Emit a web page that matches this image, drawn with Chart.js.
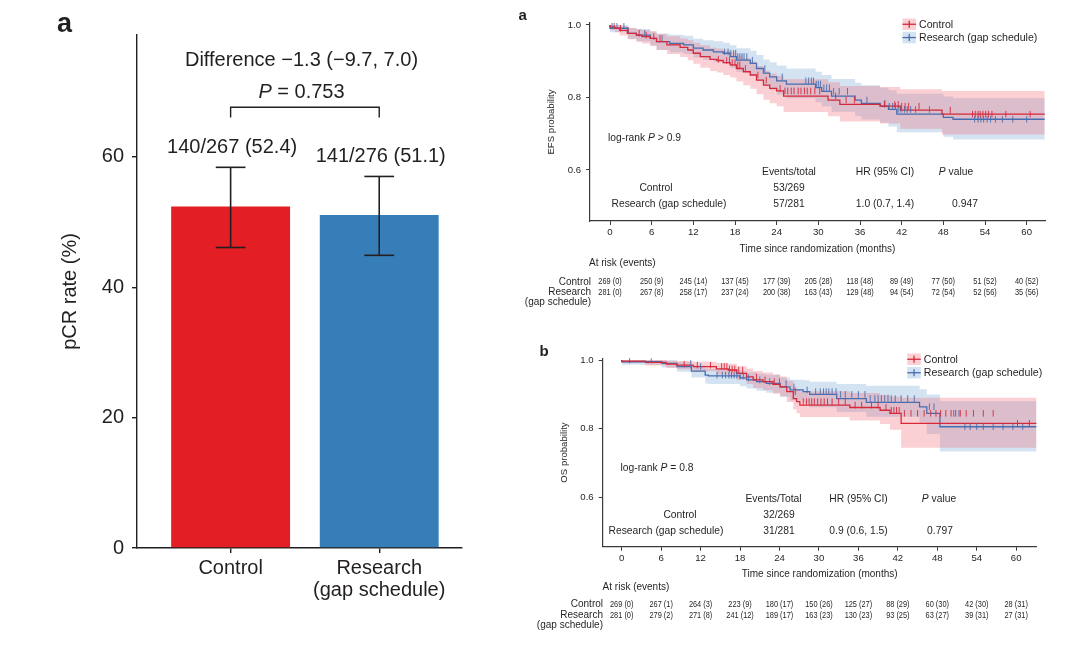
<!DOCTYPE html>
<html><head><meta charset="utf-8">
<script src="https://cdn.jsdelivr.net/npm/chart.js@4.4.1/dist/chart.umd.min.js"></script>
<style>
html,body{margin:0;padding:0;background:#fff;width:1080px;height:649px;overflow:hidden}
canvas{position:absolute}
</style></head><body>
<canvas id="c1" width="480" height="649" style="left:0;top:0"></canvas>
<canvas id="c2" width="580" height="325" style="left:500px;top:0"></canvas>
<canvas id="c3" width="580" height="319" style="left:500px;top:330px"></canvas>
<script>
// ---------------- DATA ----------------
// Panel a (left): pCR rate
const pcrGroups = [['Control'], ['Research', '(gap schedule)']];
const pcrRate = [52.4, 51.1];
const pcrLow = [46.1, 44.9];
const pcrHigh = [58.4, 57.0];
const pcrText = ['140/267 (52.4)', '141/276 (51.1)'];
const pcrYTicks = [0, 20, 40, 60];

// Kaplan-Meier shared ticks
const kmMonthTicks = [0, 6, 12, 18, 24, 30, 36, 42, 48, 54, 60];
const kmProbTicks = [0.6, 0.8, 1.0];

// EFS - Control
const efsCtrlTime = [0, 0.7, 1.4, 2.5, 3.8, 4.6, 5.8, 6.7, 8.2, 10.1, 11.2, 12.0, 13.0, 14.4, 15.4, 16.3, 17.3, 18.2, 19.2, 20.2, 21.1, 22.1, 23.0, 24.0, 25.0, 31.4, 33.1, 38.9, 41.8, 47.8, 51.9];
const efsCtrlSurv = [1.000, 0.995, 0.991, 0.985, 0.977, 0.972, 0.968, 0.963, 0.954, 0.945, 0.938, 0.931, 0.922, 0.913, 0.905, 0.902, 0.896, 0.890, 0.880, 0.871, 0.862, 0.848, 0.834, 0.825, 0.818, 0.804, 0.793, 0.781, 0.776, 0.765, 0.754];
const efsCtrlLow  = [1.000, 0.987, 0.980, 0.971, 0.961, 0.954, 0.949, 0.942, 0.931, 0.920, 0.912, 0.903, 0.893, 0.882, 0.873, 0.869, 0.862, 0.855, 0.844, 0.834, 0.824, 0.809, 0.794, 0.784, 0.776, 0.760, 0.748, 0.734, 0.728, 0.714, 0.698];
const efsCtrlHigh = [1.000, 1.000, 1.000, 0.997, 0.992, 0.989, 0.986, 0.983, 0.976, 0.969, 0.963, 0.958, 0.951, 0.944, 0.937, 0.935, 0.930, 0.925, 0.916, 0.908, 0.900, 0.887, 0.874, 0.866, 0.860, 0.850, 0.842, 0.832, 0.829, 0.823, 0.818];
const efsCtrlCens = [0.6, 1.5, 2.6, 4.2, 5.2, 6.3, 7.2, 15.6, 16.8, 17.2, 17.6, 18.0, 18.4, 18.7, 19.5, 21.3, 22.5, 24.5, 25.2, 25.6, 26.1, 26.5, 27.1, 27.5, 28.0, 28.4, 28.9, 29.5, 30.2, 32.5, 34.0, 35.2, 39.5, 41.0, 41.5, 42.0, 42.5, 43.0, 44.5, 49.0, 52.2, 52.6, 53.0, 53.3, 53.7, 54.1, 54.5, 55.0, 57.0, 60.5];
// EFS - Research (gap schedule)
const efsResTime = [0, 2.6, 3.8, 5.8, 6.7, 8.6, 10.6, 12.0, 13.4, 14.9, 16.3, 17.3, 18.2, 20.2, 21.1, 22.1, 23.0, 24.0, 25.4, 29.6, 30.5, 31.9, 35.3, 36.2, 38.9, 40.1, 41.3, 48.0, 49.4, 51.8];
const efsResSurv = [1.000, 0.991, 0.977, 0.972, 0.963, 0.954, 0.949, 0.945, 0.936, 0.931, 0.926, 0.922, 0.913, 0.903, 0.894, 0.880, 0.867, 0.857, 0.846, 0.837, 0.827, 0.817, 0.804, 0.793, 0.784, 0.776, 0.767, 0.754, 0.745, 0.740];
const efsResLow  = [1.000, 0.980, 0.962, 0.955, 0.944, 0.932, 0.925, 0.920, 0.910, 0.904, 0.898, 0.893, 0.882, 0.870, 0.860, 0.845, 0.831, 0.820, 0.808, 0.798, 0.787, 0.776, 0.761, 0.749, 0.739, 0.730, 0.720, 0.704, 0.692, 0.684];
const efsResHigh = [1.000, 1.000, 0.992, 0.989, 0.982, 0.976, 0.973, 0.970, 0.962, 0.958, 0.955, 0.951, 0.944, 0.936, 0.929, 0.917, 0.905, 0.897, 0.888, 0.880, 0.871, 0.862, 0.851, 0.841, 0.834, 0.827, 0.820, 0.810, 0.803, 0.798];
const efsResCens = [0.3, 1.0, 2.0, 5.0, 7.5, 16.5, 17.0, 17.4, 17.8, 18.1, 18.4, 18.7, 19.0, 19.3, 19.7, 20.5, 22.3, 24.8, 28.2, 28.6, 29.0, 29.3, 29.7, 30.0, 30.3, 30.8, 31.2, 31.6, 32.2, 33.0, 34.2, 37.0, 39.6, 40.2, 40.7, 41.1, 41.5, 41.9, 42.4, 42.8, 43.3, 44.0, 46.0, 52.5, 53.0, 53.4, 53.8, 54.3, 54.8, 55.5, 56.5, 58.0, 60.0];
const efsFollowEnd = 62.6;
const efsRiskCtrl = ['269 (0)', '250 (9)', '245 (14)', '137 (45)', '177 (39)', '205 (28)', '118 (48)', '89 (49)', '77 (50)', '51 (52)', '40 (52)'];
const efsRiskRes  = ['281 (0)', '267 (8)', '258 (17)', '237 (24)', '200 (38)', '163 (43)', '129 (48)', '94 (54)', '72 (54)', '52 (56)', '35 (56)'];
const efsEvents = ['53/269', '57/281'];
const efsHR = ['', '1.0 (0.7, 1.4)'];
const efsP = ['', '0.947'];

// OS - Control
const osCtrlTime = [0, 3.6, 6.8, 8.4, 10.9, 14.4, 16.2, 17.5, 19.0, 20.0, 21.5, 23.0, 24.1, 25.1, 26.1, 26.6, 27.1, 34.7, 39.3, 40.8, 42.5, 59.2];
const osCtrlSurv = [1.000, 0.997, 0.993, 0.988, 0.985, 0.981, 0.974, 0.971, 0.961, 0.951, 0.942, 0.937, 0.929, 0.922, 0.908, 0.888, 0.879, 0.869, 0.862, 0.854, 0.845, 0.816];
const osCtrlLow  = [1.000, 0.991, 0.984, 0.977, 0.973, 0.967, 0.958, 0.954, 0.942, 0.930, 0.919, 0.912, 0.902, 0.894, 0.878, 0.856, 0.845, 0.834, 0.824, 0.814, 0.797, 0.745];
const osCtrlHigh = [1.000, 1.000, 1.000, 0.998, 0.997, 0.995, 0.991, 0.989, 0.982, 0.975, 0.968, 0.964, 0.958, 0.952, 0.940, 0.923, 0.916, 0.909, 0.904, 0.899, 0.893, 0.890];
const osCtrlCens = [1.2, 9.5, 11.5, 13.5, 15.2, 15.6, 16.0, 16.4, 16.8, 17.2, 17.8, 18.4, 20.5, 21.8, 23.2, 26.4, 27.6, 28.1, 28.5, 28.9, 29.3, 29.8, 30.3, 30.8, 31.3, 32.0, 33.0, 34.0, 35.5, 36.5, 38.0, 39.0, 40.2, 41.0, 41.4, 41.8, 42.2, 43.0, 44.0, 45.0, 46.0, 47.0, 47.8, 48.5, 49.3, 50.1, 50.8, 51.5, 52.4, 53.5, 55.0, 56.5, 60.2, 62.0];
// OS - Research (gap schedule)
const osResTime = [0, 6.1, 8.4, 10.6, 12.7, 13.2, 18.0, 19.0, 20.5, 22.0, 24.1, 25.6, 27.6, 28.6, 32.7, 37.2, 45.3, 46.4, 48.4, 51.7];
const osResSurv = [1.000, 0.995, 0.990, 0.981, 0.968, 0.956, 0.954, 0.948, 0.942, 0.937, 0.932, 0.922, 0.913, 0.908, 0.900, 0.888, 0.877, 0.864, 0.845, 0.806];
const osResLow  = [1.000, 0.986, 0.978, 0.966, 0.949, 0.932, 0.930, 0.924, 0.917, 0.911, 0.905, 0.893, 0.882, 0.874, 0.863, 0.849, 0.835, 0.818, 0.785, 0.734];
const osResHigh = [1.000, 1.000, 0.999, 0.994, 0.984, 0.975, 0.974, 0.969, 0.964, 0.960, 0.957, 0.949, 0.943, 0.941, 0.937, 0.930, 0.925, 0.915, 0.900, 0.880];
const osResCens = [4.5, 10.5, 12.0, 14.5, 15.3, 15.8, 16.3, 16.7, 17.1, 17.5, 18.0, 18.5, 19.3, 21.0, 22.5, 24.0, 25.0, 26.2, 28.2, 29.5, 30.2, 30.7, 31.1, 31.5, 32.0, 32.6, 33.3, 34.0, 35.0, 36.0, 37.0, 37.8, 38.5, 39.0, 39.5, 40.0, 40.5, 41.0, 41.6, 42.5, 43.5, 44.5, 46.8, 47.5, 50.5, 51.3, 52.2, 53.0, 54.0, 55.0, 56.5, 58.0, 59.5, 61.0];
const osFollowEnd = 63.1;
const osRiskCtrl = ['269 (0)', '267 (1)', '264 (3)', '223 (9)', '180 (17)', '150 (26)', '125 (27)', '88 (29)', '60 (30)', '42 (30)', '28 (31)'];
const osRiskRes  = ['281 (0)', '279 (2)', '271 (8)', '241 (12)', '189 (17)', '163 (23)', '130 (23)', '93 (25)', '63 (27)', '39 (31)', '27 (31)'];
const osEvents = ['32/269', '31/281'];
const osHR = ['', '0.9 (0.6, 1.5)'];
const osP = ['', '0.797'];

// ---------------- STYLE / HELPERS ----------------
const FONT = "'Liberation Sans', Arial, Helvetica, sans-serif";
const INK = '#231f20';
Chart.defaults.font.family = FONT;
Chart.defaults.color = INK;

const RED_BAR = 'rgb(227,30,36)';
const BLUE_BAR = 'rgb(55,126,184)';
const RED_LINE = 'rgb(214,40,58)';
const BLUE_LINE = 'rgb(70,110,176)';
const RED_BAND = 'rgba(240,100,112,0.30)';
const BLUE_BAND = 'rgba(112,162,208,0.30)';

function setFont(ctx, size, italic, bold) {
  ctx.font = (italic ? 'italic ' : '') + (bold ? 'bold ' : '') + size + 'px ' + FONT;
}
function drawRich(ctx, parts, x, y, align, size) {
  let total = 0;
  const ws = parts.map(p => { setFont(ctx, size, p[1]); const w = ctx.measureText(p[0]).width; total += w; return w; });
  let cx = align === 'center' ? x - total / 2 : (align === 'right' ? x - total : x);
  ctx.textAlign = 'left';
  parts.forEach((p, i) => { setFont(ctx, size, p[1]); ctx.fillText(p[0], cx, y); cx += ws[i]; });
}
function seg(ctx, x1, y1, x2, y2) { ctx.beginPath(); ctx.moveTo(x1, y1); ctx.lineTo(x2, y2); ctx.stroke(); }
function stepAt(times, surv, t) { let v = surv[0]; for (let i = 0; i < times.length; i++) if (times[i] <= t) v = surv[i]; return v; }
function curvePoints(times, vals, end) {
  const pts = times.map((t, i) => ({ x: t, y: vals[i] }));
  pts.push({ x: end, y: vals[vals.length - 1] });
  return pts;
}

// ---------------- PANEL a (bar) ----------------
const barExtras = {
  id: 'barExtras',
  afterDraw(chart) {
    const ctx = chart.ctx, xs = chart.scales.x, ys = chart.scales.y;
    ctx.save();
    ctx.strokeStyle = INK; ctx.fillStyle = INK; ctx.lineWidth = 1.6;
    pcrRate.forEach((v, i) => {
      const px = xs.getPixelForValue(i + 1);
      const hw = xs.getPixelForValue(i + 1.1) - px;
      const yl = ys.getPixelForValue(pcrLow[i]), yu = ys.getPixelForValue(pcrHigh[i]);
      seg(ctx, px, yl, px, yu);
      seg(ctx, px - hw, yu, px + hw, yu);
      seg(ctx, px - hw, yl, px + hw, yl);
      setFont(ctx, 20); ctx.textAlign = 'center'; ctx.textBaseline = 'alphabetic';
      ctx.fillText(pcrText[i], px + 1.5, yu - 14);
    });
    // comparison bracket
    const x1 = xs.getPixelForValue(1), x2 = xs.getPixelForValue(2);
    ctx.lineWidth = 1.4;
    ctx.beginPath(); ctx.moveTo(x1, 117.5); ctx.lineTo(x1, 107.3); ctx.lineTo(x2, 107.3); ctx.lineTo(x2, 117.5); ctx.stroke();
    ctx.textBaseline = 'alphabetic';
    drawRich(ctx, [['P', true], [' = 0.753', false]], 301.5, 98.3, 'center', 20);
    drawRich(ctx, [['Difference \u22121.3 (\u22129.7, 7.0)', false]], 301.5, 65.8, 'center', 20);
    // panel letter
    setFont(ctx, 27, false, true); ctx.textAlign = 'left';
    ctx.fillText('a', 57, 31.5);
    ctx.restore();
  }
};

new Chart(document.getElementById('c1'), {
  type: 'bar',
  data: {
    datasets: [{
      data: pcrRate.map((v, i) => ({ x: i + 1, y: v })),
      backgroundColor: [RED_BAR, BLUE_BAR],
      borderWidth: 0,
      barPercentage: 1,
      categoryPercentage: 0.8
    }]
  },
  options: {
    responsive: false, animation: false, devicePixelRatio: 1, events: [],
    layout: { padding: { left: 0, top: 35, right: 18, bottom: 0 } },
    plugins: { legend: { display: false }, tooltip: { enabled: false } },
    scales: {
      x: {
        type: 'linear', min: 0.37, max: 2.557, offset: false,
        afterBuildTicks: s => { s.ticks = pcrGroups.map((g, i) => ({ value: i + 1 })); },
        afterFit: s => { s.height = 101; },
        ticks: { callback: v => pcrGroups[Math.round(v) - 1], font: { size: 20, lineHeight: 1.07 }, color: INK, padding: 5, maxRotation: 0, autoSkip: false },
        grid: { offset: false, drawOnChartArea: false, tickLength: 5, color: INK, lineWidth: 1.4 },
        border: { color: INK, width: 1.4 }
      },
      y: {
        min: 0, max: 78.7,
        afterBuildTicks: s => { s.ticks = pcrYTicks.map(v => ({ value: v })); },
        afterFit: s => { s.width = 137; },
        ticks: { font: { size: 20 }, color: INK, padding: 8 },
        grid: { drawOnChartArea: false, tickLength: 5, color: INK, lineWidth: 1.4 },
        border: { color: INK, width: 1.4 },
        title: { display: true, text: 'pCR rate (%)', font: { size: 20 }, color: INK, padding: { top: 58, bottom: 0 } }
      }
    }
  },
  plugins: [barExtras]
});

// ---------------- KM panels ----------------
function kmChart(canvasId, cfg) {
  const ds = [];
  cfg.arms.forEach(arm => {
    ds.push({
      data: arm.cens.map(t => ({ x: t, y: stepAt(arm.time, arm.surv, t) })),
      showLine: false, pointStyle: 'line', pointRotation: 90, pointRadius: 3.3,
      pointBorderColor: arm.line, pointBackgroundColor: arm.line, pointBorderWidth: 0.9, order: 0
    });
  });
  cfg.arms.forEach(arm => {
    ds.push({ data: curvePoints(arm.time, arm.surv, cfg.end), stepped: 'after', borderColor: arm.line, borderWidth: 1.3, pointRadius: 0, fill: false, order: 1 });
  });
  cfg.arms.forEach(arm => {
    ds.push({ data: curvePoints(arm.time, arm.high, cfg.end), stepped: 'after', borderWidth: 0, borderColor: 'transparent', backgroundColor: arm.band, pointRadius: 0, fill: '+1', order: 2 });
    ds.push({ data: curvePoints(arm.time, arm.low, cfg.end), stepped: 'after', borderWidth: 0, borderColor: 'transparent', pointRadius: 0, fill: false, order: 2 });
  });

  const extras = {
    id: 'km_' + canvasId,
    afterDraw(chart) {
      const ctx = chart.ctx, xs = chart.scales.x;
      ctx.save();
      ctx.translate(-cfg.left, -cfg.top);
      ctx.fillStyle = INK;
      // panel letter
      setFont(ctx, 15, false, true); ctx.textAlign = 'left'; ctx.textBaseline = 'alphabetic';
      ctx.fillText(cfg.letter, cfg.letterX, cfg.letterY);
      // legend
      const L = cfg.legend;
      cfg.arms.forEach((arm, i) => {
        const by = L.y + i * L.dy;
        ctx.fillStyle = arm.band; ctx.fillRect(L.x, by, 13.5, 11.5);
        ctx.strokeStyle = arm.line; ctx.lineWidth = 1.3;
        seg(ctx, L.x, by + 5.75, L.x + 13.5, by + 5.75);
        seg(ctx, L.x + 6.75, by + 2.2, L.x + 6.75, by + 9.3);
        ctx.fillStyle = INK; setFont(ctx, 10.6); ctx.textAlign = 'left'; ctx.textBaseline = 'middle';
        ctx.fillText(arm.name, L.x + 16.5, by + 6.2);
      });
      ctx.textBaseline = 'middle';
      // log-rank
      drawRich(ctx, [['log-rank ', false], ['P', true], [cfg.logrank, false]], cfg.lrX, cfg.lrY, 'left', 10.3);
      // summary table
      const T = cfg.table;
      drawRich(ctx, [[T.evHead, false]], T.evX, T.y0, 'center', 10.3);
      drawRich(ctx, [['HR (95% CI)', false]], T.hrX, T.y0, 'center', 10.3);
      drawRich(ctx, [['P', true], [' value', false]], T.pX, T.y0, 'center', 10.3);
      cfg.arms.forEach((arm, i) => {
        const y = T.y0 + (i + 1) * T.dy;
        drawRich(ctx, [[arm.name, false]], T.nameX[i], y, 'center', 10.3);
        drawRich(ctx, [[cfg.events[i], false]], T.evValX, y, 'center', 10.3);
        if (cfg.hr[i]) drawRich(ctx, [[cfg.hr[i], false]], T.hrX, y, 'center', 10.3);
        if (cfg.p[i]) drawRich(ctx, [[cfg.p[i], false]], T.pValX, y, 'center', 10.3);
      });
      // at-risk table
      const R = cfg.risk;
      setFont(ctx, 10); ctx.textAlign = 'left';
      ctx.fillText('At risk (events)', R.headX, R.headY);
      ctx.textAlign = 'right';
      ctx.fillText('Control', R.labelX, R.y1);
      ctx.fillText('Research', R.labelX, R.y2);
      ctx.fillText('(gap schedule)', R.labelX, R.y3);
      [cfg.riskCtrl, cfg.riskRes].forEach((row, r) => {
        row.forEach((txt, k) => {
          const px = xs.getPixelForValue(kmMonthTicks[k]) + cfg.left;
          ctx.save();
          ctx.translate(px, r === 0 ? R.y1 : R.y2);
          ctx.scale(0.86, 1);
          setFont(ctx, 8.6); ctx.textAlign = 'center';
          ctx.fillText(txt, 0, 0);
          ctx.restore();
        });
      });
      ctx.restore();
    }
  };

  return new Chart(document.getElementById(canvasId), {
    type: 'line',
    data: { datasets: ds },
    options: {
      responsive: false, animation: false, devicePixelRatio: 1, events: [],
      layout: { padding: cfg.padding },
      plugins: { legend: { display: false }, tooltip: { enabled: false } },
      scales: {
        x: {
          type: 'linear', min: cfg.xMin, max: cfg.xMax,
          afterBuildTicks: s => { s.ticks = kmMonthTicks.map(v => ({ value: v })); },
          afterFit: s => { s.height = cfg.xAxisH; },
          ticks: { font: { size: 9.6 }, color: INK, padding: 1.5, maxRotation: 0, autoSkip: false },
          grid: { drawOnChartArea: false, tickLength: 4, color: '#3a3a3a', lineWidth: 1 },
          border: { color: '#3a3a3a', width: 1.2 },
          title: { display: true, text: 'Time since randomization (months)', font: { size: 10 }, color: INK, padding: { top: 0, bottom: 0 } }
        },
        y: {
          min: cfg.yMin, max: cfg.yMax,
          afterBuildTicks: s => { s.ticks = kmProbTicks.map(v => ({ value: v })); },
          afterFit: s => { s.width = cfg.yAxisW; },
          ticks: { font: { size: 9.6 }, color: INK, padding: 5, callback: v => v.toFixed(1) },
          grid: { drawOnChartArea: false, tickLength: 4, color: '#3a3a3a', lineWidth: 1 },
          border: { color: '#3a3a3a', width: 1.2 },
          title: { display: true, text: cfg.yTitle, font: { size: 9.6 }, color: INK, padding: { top: cfg.yTitlePad, bottom: 0 } }
        }
      }
    },
    plugins: [extras]
  });
}

kmChart('c2', {
  left: 500, top: 0,
  padding: { left: 0, top: 23, right: 35, bottom: 70 },
  xAxisH: 34, yAxisW: 90, yTitlePad: 45.5, yTitle: 'EFS probability',
  xMin: -2.88, xMax: 62.64, yMin: 0.4593, yMax: 1.0055, end: efsFollowEnd,
  arms: [
    { name: 'Control', time: efsCtrlTime, surv: efsCtrlSurv, low: efsCtrlLow, high: efsCtrlHigh, cens: efsCtrlCens, line: RED_LINE, band: RED_BAND },
    { name: 'Research (gap schedule)', time: efsResTime, surv: efsResSurv, low: efsResLow, high: efsResHigh, cens: efsResCens, line: BLUE_LINE, band: BLUE_BAND }
  ],
  letter: 'a', letterX: 518.5, letterY: 20,
  legend: { x: 902.5, y: 18.5, dy: 13.3 },
  logrank: ' > 0.9', lrX: 608, lrY: 138.5,
  table: { evHead: 'Events/total', y0: 172, dy: 16.2, evX: 789, evValX: 789, hrX: 885, pX: 956, pValX: 965, nameX: [656, 669] },
  events: efsEvents, hr: efsHR, p: efsP,
  risk: { headX: 589, headY: 263, labelX: 591, y1: 282, y2: 292.5, y3: 302.5 },
  riskCtrl: efsRiskCtrl, riskRes: efsRiskRes
});

kmChart('c3', {
  left: 500, top: 330,
  padding: { left: 0, top: 28.3, right: 43.3, bottom: 69 },
  xAxisH: 33.3, yAxisW: 102.7, yTitlePad: 58.2, yTitle: 'OS probability',
  xMin: -2.89, xMax: 63.12, yMin: 0.4573, yMax: 1.005, end: osFollowEnd,
  arms: [
    { name: 'Control', time: osCtrlTime, surv: osCtrlSurv, low: osCtrlLow, high: osCtrlHigh, cens: osCtrlCens, line: RED_LINE, band: RED_BAND },
    { name: 'Research (gap schedule)', time: osResTime, surv: osResSurv, low: osResLow, high: osResHigh, cens: osResCens, line: BLUE_LINE, band: BLUE_BAND }
  ],
  letter: 'b', letterX: 539.5, letterY: 355.5,
  legend: { x: 907.3, y: 353.5, dy: 13.5 },
  logrank: ' = 0.8', lrX: 620.5, lrY: 468,
  table: { evHead: 'Events/Total', y0: 499, dy: 16, evX: 773.5, evValX: 779, hrX: 858.5, pX: 939, pValX: 940, nameX: [680, 666] },
  events: osEvents, hr: osHR, p: osP,
  risk: { headX: 602.6, headY: 587, labelX: 603, y1: 604.5, y2: 615.5, y3: 625.5 },
  riskCtrl: osRiskCtrl, riskRes: osRiskRes
});
</script>
</body></html>
